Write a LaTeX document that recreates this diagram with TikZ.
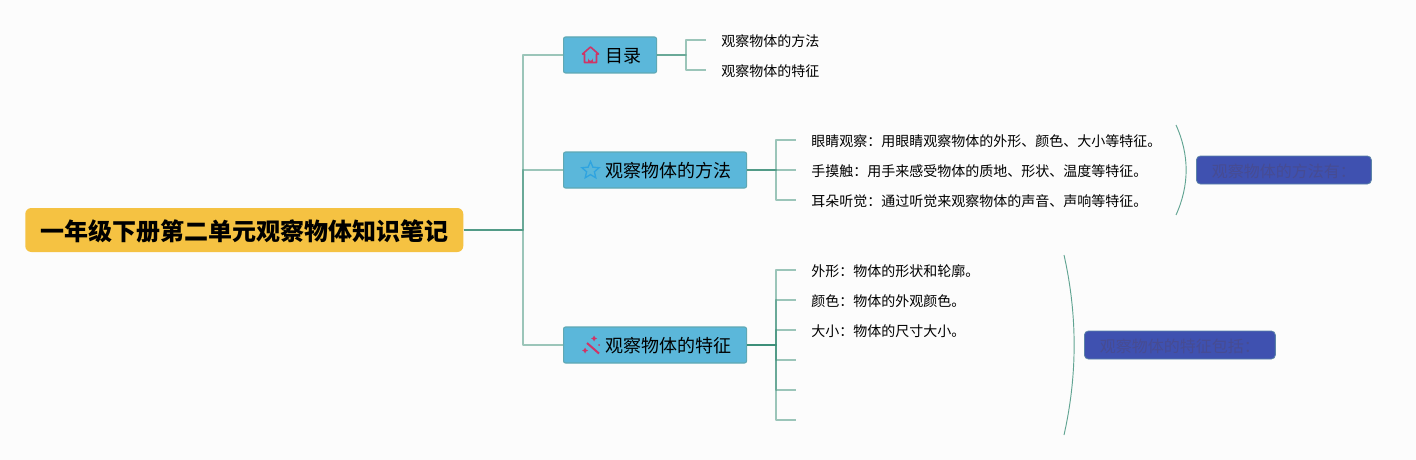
\documentclass[tikz,border=0pt]{standalone}
\usepackage{fontspec}
\setmainfont{Noto Sans CJK SC}
\usetikzlibrary{shapes.geometric}
\definecolor{pagebg}{HTML}{FCFCFC}
\definecolor{rootfill}{HTML}{F5C242}
\definecolor{topicfill}{HTML}{5BB7DA}
\definecolor{topicline}{HTML}{5FA8B4}
\definecolor{linkcolor}{HTML}{3B8F78}
\definecolor{notefill}{HTML}{3F51B0}
\definecolor{noteline}{HTML}{5B83A8}
\definecolor{notetext}{HTML}{474C92}
\definecolor{iconred}{HTML}{CF3566}
\definecolor{iconblue}{HTML}{2FA4E0}
\tikzset{
    root/.style={fill=rootfill,rounded corners=4.5pt,anchor=west,minimum height=33pt,inner xsep=11.25pt,inner ysep=0pt,text height=18pt,text depth=2.8pt,font=\fontsize{18}{20}\selectfont\bfseries},
    topic/.style={draw=topicline,line width=.8pt,fill=topicfill,rounded corners=1.5pt,anchor=west,minimum height=27pt,inner xsep=11.25pt,inner ysep=0pt,text height=14.8pt,text depth=3pt,font=\fontsize{13.5}{16}\selectfont},
    leaf/.style={anchor=west,inner xsep=11.25pt,inner ysep=0pt,text height=11pt,text depth=.8pt,font=\fontsize{10.5}{13}\selectfont},
    note/.style={draw=noteline,line width=.6pt,fill=notefill,rounded corners=3pt,anchor=west,minimum height=21pt,inner xsep=11.6pt,inner ysep=0pt,text height=12.8pt,text depth=2pt,text=notetext,font=\fontsize{12}{14}\selectfont},
    link/.style={draw=linkcolor,draw opacity=.5,line width=1.1pt,line join=round},
    summary/.style={draw=linkcolor,draw opacity=.8,line width=.7pt},
    icon/.style={draw=iconred,line width=1pt,line join=round}
}
\begin{document}
\begin{tikzpicture}[x=.75pt,y=-.75pt]
    \fill[pagebg] (0,0) rectangle (1416,460);
    \useasboundingbox (0,0) rectangle (1416,460);

    % main nodes
    \node[root] (title) at (25,230) {一年级下册第二单元观察物体知识笔记};
    \node[topic] (toc) at (563,55) {\hspace*{20.25pt}目录};
    \node[topic] (method) at (563,170) {\hspace*{20.25pt}观察物体的方法};
    \node[topic] (feature) at (563,345) {\hspace*{20.25pt}观察物体的特征};

    % first level links
    \coordinate (trunk) at (523,230);
    \foreach \t in {toc,method,feature}
        \draw[link] (title.east) -- (trunk) |- (\t.west);

    % leaves of toc
    \node[leaf] (toc1) at (706,40) {观察物体的方法};
    \node[leaf] (toc2) at (706,70) {观察物体的特征};
    \coordinate (tocfork) at (686,55);
    \foreach \l in {toc1,toc2}
        \draw[link] (toc.east) -- (tocfork) |- (\l.west);

    % leaves of method
    \node[leaf] (method1) at (796,140) {眼睛观察：用眼睛观察物体的外形、颜色、大小等特征。};
    \node[leaf] (method2) at (796,170) {手摸触：用手来感受物体的质地、形状、温度等特征。};
    \node[leaf] (method3) at (796,200) {耳朵听觉：通过听觉来观察物体的声音、声响等特征。};
    \coordinate (methodfork) at (776,170);
    \foreach \l in {method1,method2,method3}
        \draw[link] (method.east) -- (methodfork) |- (\l.west);

    % leaves of feature
    \node[leaf] (feature1) at (796,270) {外形：物体的形状和轮廓。};
    \node[leaf] (feature2) at (796,300) {颜色：物体的外观颜色。};
    \node[leaf] (feature3) at (796,330) {大小：物体的尺寸大小。};
    \node[leaf] (feature4) at (796,360) {};
    \node[leaf] (feature5) at (796,390) {};
    \node[leaf] (feature6) at (796,420) {};
    \coordinate (featurefork) at (776,345);
    \foreach \l in {feature1,feature2,feature3,feature4,feature5,feature6}
        \draw[link] (feature.east) -- (featurefork) |- (\l.west);

    % summaries
    \coordinate (methodtop) at (1176,125);
    \coordinate (methodbot) at (1176,215);
    \draw[summary] (methodtop) .. controls (1189.5,155) and (1189.5,185) .. (methodbot);
    \node[note] (methodnote) at (1196,170) {观察物体的方法有：};
    \coordinate (featuretop) at (1064,255);
    \coordinate (featurebot) at (1064,435);
    \draw[summary] (featuretop) .. controls (1077.5,315) and (1077.5,375) .. (featurebot);
    \node[note] (featurenote) at (1084,345) {观察物体的特征包括：};

    % icons
    \draw[icon,line width=1.2pt] (584.5,62.5) -- (584.5,54) -- (582.5,54) -- (590.5,47) -- (598.5,54) -- (596.5,54) -- (596.5,62.5) -- cycle;
    \fill[iconred] (588.2,62.5) -- (588.2,58.5) arc[start angle=180,end angle=0,radius=2.3] -- (592.8,62.5) -- cycle;
    \node[star,star points=5,star point ratio=2.2,draw=iconblue,line width=1pt,minimum size=13.5pt,inner sep=0pt] (staricon) at (590.5,170.5) {};
    \draw[icon,line width=1.5pt] (587,343) -- (599,353.5);
    \fill[iconred] (585,347.5) -- (586,349.5) -- (588,350.5) -- (586,351.5) -- (585,353.5) -- (584,351.5) -- (582,350.5) -- (584,349.5) -- cycle;
    \fill[iconred] (594,335.5) -- (595,337.5) -- (597,338.5) -- (595,339.5) -- (594,341.5) -- (593,339.5) -- (591,338.5) -- (593,337.5) -- cycle;
    \fill[iconred] (599,345) circle (1);
\end{tikzpicture}
\end{document}
